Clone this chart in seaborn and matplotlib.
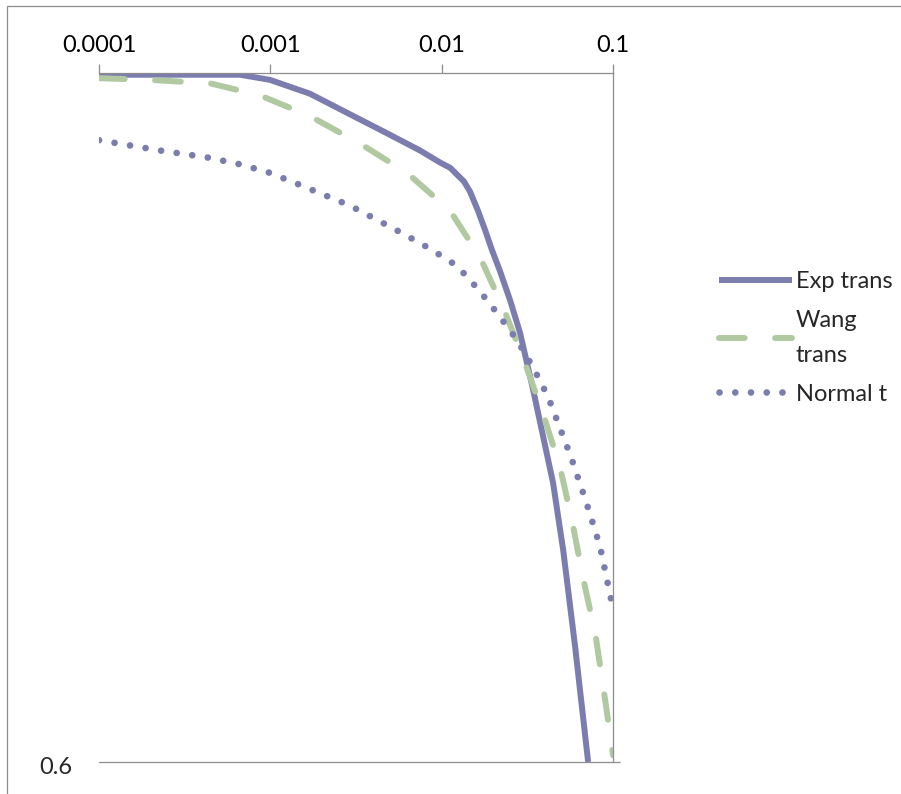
import pandas as pd
import matplotlib
matplotlib.use("Agg")
import matplotlib.pyplot as plt
import matplotlib.ticker as mticker
from matplotlib.patches import Rectangle
import seaborn as sns

# values
exp_x = [0.0001, 0.000389, 0.000665, 0.000996, 0.0017, 0.00292, 0.0048, 0.00748, 0.0098,
         0.0112, 0.0123, 0.0135, 0.01466, 0.0163, 0.0179, 0.0197, 0.0219, 0.0251, 0.0287,
         0.0342, 0.0447, 0.0512, 0.0601, 0.0716]
exp_y = [0.999, 0.999, 0.999, 0.996, 0.988, 0.976, 0.965, 0.955, 0.948,
         0.945, 0.941, 0.937, 0.931, 0.920, 0.909, 0.897, 0.885, 0.868, 0.849,
         0.816, 0.762, 0.723, 0.667, 0.600]

wang_x = [0.0001, 0.000199, 0.000445, 0.00087, 0.0017, 0.00334, 0.00628, 0.0112, 0.01675,
          0.0228, 0.0298, 0.0391, 0.0491, 0.0577, 0.0668, 0.0787, 0.090, 0.1]
wang_y = [0.997, 0.996, 0.994, 0.987, 0.975, 0.959, 0.942, 0.920, 0.893,
          0.864, 0.835, 0.802, 0.771, 0.740, 0.707, 0.675, 0.636, 0.604]

norm_x = [0.0001, 0.000227, 0.000427, 0.000665, 0.000996, 0.00149, 0.00292, 0.00588, 0.00855,
          0.0123, 0.0165, 0.0213, 0.0275, 0.0342, 0.0418, 0.0569, 0.0697, 0.0841, 0.1]
norm_y = [0.961, 0.955, 0.951, 0.947, 0.942, 0.935, 0.923, 0.907, 0.898,
          0.888, 0.874, 0.860, 0.845, 0.829, 0.812, 0.777, 0.751, 0.725, 0.689]

x_ticks = [0.0001, 0.001, 0.01, 0.1]
x_labels = ["0.0001", "0.001", "0.01", "0.1"]

sns.set_style("white")
plt.rcParams['font.family'] = ['Lato', 'DejaVu Sans']

purple = "#7b7dae"
green = "#b0c9a0"

fig = plt.figure(figsize=(9.01, 7.94), dpi=100)
ax = fig.add_axes([99 / 901, 1 - 762 / 794, (613 - 99) / 901, (762 - 73) / 794])

# frame around the chart
fig.patches.append(Rectangle((7 / 901, -0.1), 1.2, 1 - 6 / 794 + 0.1, transform=fig.transFigure,
                             fill=False, edgecolor="#8c8c8c", linewidth=0.9))

exp_df = pd.DataFrame({"x": exp_x, "y": exp_y})
wang_df = pd.DataFrame({"x": wang_x, "y": wang_y})
norm_df = pd.DataFrame({"x": norm_x, "y": norm_y})

sns.lineplot(data=exp_df, x="x", y="y", ax=ax, sort=False, color=purple, linewidth=4.3,
             label="Exp trans", solid_capstyle="butt", solid_joinstyle="round")
sns.lineplot(data=wang_df, x="x", y="y", ax=ax, sort=False, color=green, linewidth=4.3,
             label="Wang\ntrans", dashes=(4.3, 5.1), dash_capstyle="round",
             dash_joinstyle="round")
sns.lineplot(data=norm_df, x="x", y="y", ax=ax, sort=False, color=purple, linewidth=4.8,
             label="Normal t", dashes=(0.01, 2.35), dash_capstyle="round")

ax.set_xscale("log")
ax.set_xlim(0.0001, 0.1)
ax.set_ylim(0.6, 1.0)
ax.set_xlabel("")
ax.set_ylabel("")

ax.xaxis.set_ticks_position("top")
ax.set_xticks(x_ticks)
ax.set_xticklabels(x_labels)
ax.xaxis.set_minor_locator(mticker.NullLocator())
ax.tick_params(axis="x", direction="out", length=6.5, width=0.9, color="#8c8c8c",
               pad=6, labelsize=17, labelcolor="black")

# y axis: only the 0.6 value, label on the left, tick mark on the right
ax.set_yticks([0.6])
ax.yaxis.set_ticks_position("right")
ax.tick_params(axis="y", direction="out", length=5, width=0.9, color="#8c8c8c",
               labelright=False, labelleft=False)
ax.annotate("0.6", xy=(0, 0.6), xycoords=("axes fraction", "data"), xytext=(-27, -6),
            textcoords="offset pixels", ha="right", va="center", fontsize=17)

ax.spines["left"].set_visible(False)
for s in ["top", "right", "bottom"]:
    ax.spines[s].set_color("#8c8c8c")
    ax.spines[s].set_linewidth(0.9)

handles, labels = ax.get_legend_handles_labels()
ax.get_legend().remove()
leg = fig.legend(handles, labels, loc="center left", bbox_to_anchor=(719 / 901, 1 - 338 / 794),
                 frameon=False, fontsize=17, handlelength=3.1, handletextpad=0.15,
                 labelspacing=0.75, borderpad=0, borderaxespad=0)
for txt in leg.get_texts():
    txt.set_linespacing(1.8)

fig.savefig("out.png", dpi=100)
